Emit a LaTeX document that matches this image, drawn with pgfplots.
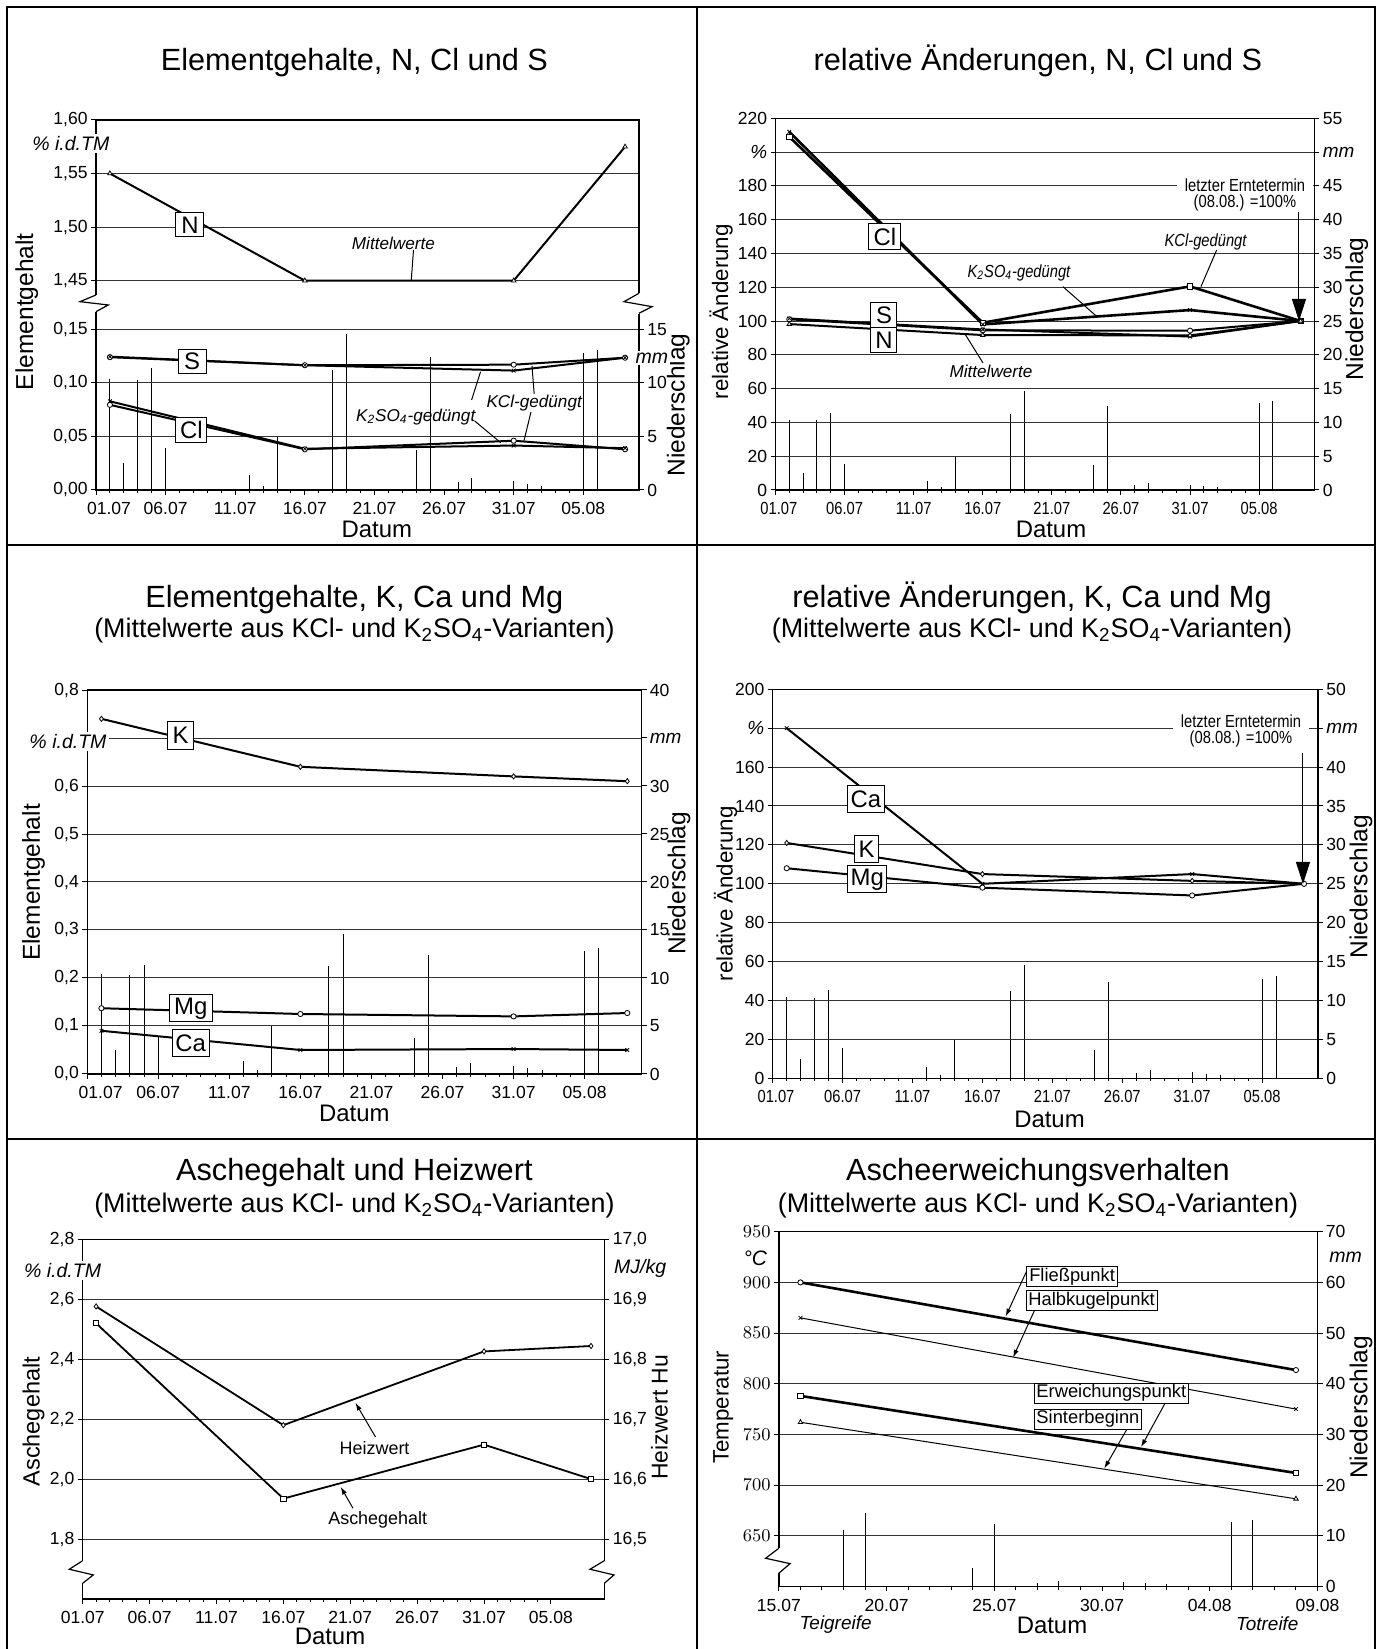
\documentclass[border=0pt]{standalone}
\usepackage{pgfplots}
\pgfplotsset{compat=1.18}
\usepackage{pgfplotstable}
\usepackage{fontspec}
\setmainfont{Liberation Sans}
\newfontfamily\narrow[FakeStretch=0.84]{Liberation Sans}
\usetikzlibrary{arrows.meta}
\newcommand\fs[1]{\fontsize{#1}{#1}\selectfont}

% Niederschlag (mm), day 0 = 01.07
\pgfplotstableread{
d mm
1 10.4
2 2.5
3 10.3
4 11.4
5 3.9
11 1.4
12 0.4
13 5.0
17 11.2
18 14.6
23 3.7
24 12.4
26 0.7
27 1.1
30 0.8
31 0.6
32 0.4
35 12.8
36 13.1
}\rain

\pgfplotsset{
  base/.style={scale only axis, anchor=south west, tick align=outside,
    major tick length=2.5bp, minor tick length=1.6bp,
    tick style={black, line width=0.5bp},
    axis line style={black, line width=0.6bp},
    tick label style={font=\fs{8.8}},
    xticklabel style={inner sep=0.5bp, yshift=-3bp},
    yticklabel style={inner sep=1.5bp}},
  leftax/.style={base, tick pos=left, ymajorgrids,
    grid style={black!80, line width=0.5bp}, minor x tick num=4},
  rightax/.style={base, axis x line=none, axis y line*=right},
  bar/.style={ycomb, black, line width=0.5bp, mark=none},
  ser/.style={black, line width=1bp, mark size=1.3bp,
    mark options={solid, fill=white, line width=0.4bp}},
}

\begin{document}
\begin{tikzpicture}
\useasboundingbox (0,0) rectangle (691.5bp,824.5bp);

%================ Panel 1 =================
\begin{axis}[rightax, at={(48bp,579.5bp)}, width=271.5bp, height=185bp,
  xmin=0, xmax=39, ymin=0, ymax=34.55, ytick={0,5,10,15}, yticklabels={0,5,10,15}]
\addplot[bar] table[x=d,y=mm]{\rain};
\end{axis}
\begin{axis}[leftax, at={(48bp,579.5bp)}, width=271.5bp, height=185bp,
  xmin=0, xmax=39, ymin=0, ymax=0.3455,
  xtick={0,5,...,35}, xticklabels={\hspace*{13bp}01.07,06.07,11.07,16.07,21.07,26.07,31.07,05.08},
  ytick={0,0.05,0.1,0.15,0.1955,0.2455,0.2955,0.3455},
  yticklabels={{0,00},{0,05},{0,10},{0,15},{1,45},{1,50},{1,55},{1,60}}]
% N (upper, broken scale: value-1.2545)
\addplot[ser, mark=triangle*] table[x=d, y expr=\thisrow{v}-1.2545]{
d v
1 1.55
15 1.45
30 1.45
38 1.575
};
% S KCl
\addplot[ser, mark=*] coordinates {(1,0.124)(15,0.1165)(30,0.117)(38,0.1235)};
% S K2SO4
\addplot[ser, mark=x] coordinates {(1,0.1245)(15,0.1165)(30,0.1115)(38,0.1235)};
% Cl KCl
\addplot[ser, mark=*] coordinates {(1,0.0795)(15,0.038)(30,0.046)(38,0.038)};
% Cl K2SO4
\addplot[ser, mark=x] coordinates {(1,0.0828)(15,0.0385)(30,0.0415)(38,0.039)};
\end{axis}

%================ Panel 2 =================
\begin{axis}[rightax, at={(387.75bp,579.5bp)}, width=269.45bp, height=185.85bp,
  xmin=0, xmax=39, ymin=0, ymax=55, ytick={0,5,...,55},
  yticklabels={0,5,10,15,20,25,30,35,40,45,{\fs{9.5}\itshape mm},55}]
\addplot[bar] table[x=d,y=mm]{\rain};
\end{axis}
\begin{axis}[leftax, at={(387.75bp,579.5bp)}, width=269.45bp, height=185.85bp,
  xmin=0, xmax=39, ymin=0, ymax=220,
  xtick={0,5,...,35}, xticklabels={\hspace*{3.4bp}01.07,06.07,11.07,16.07,21.07,26.07,31.07,05.08},
  xticklabel style={font=\narrow\fs{8.8}},
  ytick={0,20,...,220}, yticklabels={0,20,40,60,80,100,120,140,160,180,{\fs{9.5}\itshape\%},220}]
\addplot[ser, line width=1.3bp, mark=square*] coordinates {(1,209)(15,99)(30,120.5)(38,100)};
\addplot[ser, line width=1.3bp, mark=x] coordinates {(1,212)(15,98)(30,106.5)(38,100)};
\addplot[ser, mark=*] coordinates {(1,101)(15,94.5)(30,94.3)(38,100)};
\addplot[ser, mark=x] coordinates {(1,101.5)(15,95)(30,90.8)(38,100)};
\addplot[ser, mark=triangle*] coordinates {(1,98.2)(15,91.7)(30,91.5)(38,100)};
\end{axis}

%================ Panel 3 =================
\begin{axis}[rightax, at={(43.6bp,287.5bp)}, width=277.15bp, height=192bp,
  xmin=0, xmax=39, ymin=0, ymax=40, ytick={0,5,...,40},
  yticklabels={0,5,10,15,20,25,30,{\fs{9.5}\itshape mm},40}]
\addplot[bar] table[x=d,y=mm]{\rain};
\end{axis}
\begin{axis}[leftax, at={(43.6bp,287.5bp)}, width=277.15bp, height=192bp,
  xmin=0, xmax=39, ymin=0, ymax=0.8,
  xtick={0,5,...,35}, xticklabels={\hspace*{13.4bp}01.07,06.07,11.07,16.07,21.07,26.07,31.07,05.08},
  ytick={0,0.1,...,0.8}, yticklabels={{0,0},{0,1},{0,2},{0,3},{0,4},{0,5},{0,6},{},{0,8}}]
\addplot[ser, mark=diamond*] coordinates {(1,0.74)(15,0.64)(30,0.62)(38,0.61)};
\addplot[ser, mark=*] coordinates {(1,0.137)(15,0.125)(30,0.120)(38,0.127)};
\addplot[ser, mark=x] coordinates {(1,0.090)(15,0.050)(30,0.052)(38,0.050)};
\end{axis}

%================ Panel 4 =================
\begin{axis}[rightax, at={(386.35bp,285.35bp)}, width=272.65bp, height=194.5bp,
  xmin=0, xmax=39, ymin=0, ymax=50, ytick={0,5,...,50},
  yticklabels={0,5,10,15,20,25,30,35,40,{\fs{9.5}\itshape mm},50}]
\addplot[bar] table[x=d,y=mm]{\rain};
\end{axis}
\begin{axis}[leftax, at={(386.35bp,285.35bp)}, width=272.65bp, height=194.5bp,
  xmin=0, xmax=39, ymin=0, ymax=200,
  xtick={0,5,...,35}, xticklabels={\hspace*{3.3bp}01.07,06.07,11.07,16.07,21.07,26.07,31.07,05.08},
  xticklabel style={font=\narrow\fs{8.8}},
  ytick={0,20,...,200}, yticklabels={0,20,40,60,80,100,120,140,160,{\fs{9.5}\itshape\%},200}]
\addplot[ser, mark=x] coordinates {(1,180)(15,100)(30,105)(38,100)};
\addplot[ser, mark=diamond*] coordinates {(1,121)(15,105)(30,101.5)(38,100)};
\addplot[ser, mark=*] coordinates {(1,108)(15,98)(30,94)(38,100)};
\end{axis}

%================ Panel 5 =================
\begin{axis}[leftax, at={(41.35bp,25bp)}, width=260.85bp, height=179.85bp,
  xmin=0, xmax=39, ymin=1.6, ymax=2.8,
  xtick={0,5,...,35}, xticklabels={01.07,06.07,11.07,16.07,21.07,26.07,31.07,05.08},
  ytick={1.8,2.0,2.2,2.4,2.6,2.8}, yticklabels={{1,8},{2,0},{2,2},{2,4},{2,6},{2,8}}]
\addplot[ser, line width=0.9bp, mark=square*] coordinates {(1,2.52)(15,1.935)(30,2.115)(38,2.0)};
\end{axis}
\begin{axis}[rightax, at={(41.35bp,25bp)}, width=260.85bp, height=179.85bp,
  xmin=0, xmax=39, ymin=16.4, ymax=17.0, ytick={16.5,16.6,16.7,16.8,16.9,17.0},
  yticklabels={{16,5},{16,6},{16,7},{16,8},{16,9},{17,0}}]
\addplot[ser, line width=0.9bp, mark=diamond*] coordinates {(1,16.888)(15,16.69)(30,16.813)(38,16.822)};
\end{axis}

%================ Panel 6 =================
\begin{axis}[rightax, at={(389.45bp,31.25bp)}, width=269.3bp, height=177.4bp,
  xmin=14, xmax=39, ymin=0, ymax=70, ytick={0,10,...,70},
  yticklabels={0,10,20,30,40,50,60,70}]
\addplot[bar] table[x=d,y=mm, restrict x to domain=14:39]{\rain};
\end{axis}
\begin{axis}[leftax, at={(389.45bp,31.25bp)}, width=269.3bp, height=177.4bp,
  xmin=14, xmax=39, ymin=600, ymax=950,
  xtick={14,19,...,39}, xticklabels={15.07,20.07,25.07,30.07,04.08,09.08},
  ytick={650,700,...,950}]
\addplot[ser, line width=1.3bp, mark=*] coordinates {(15,900)(38,813.5)};
\addplot[ser, line width=0.5bp, mark=x] coordinates {(15,865)(38,775)};
\addplot[ser, line width=1.3bp, mark=square*] coordinates {(15,788)(38,712)};
\addplot[ser, line width=0.5bp, mark=triangle*] coordinates {(15,762)(38,686.5)};
\end{axis}

%================ Annotations in pixel coordinates =================
\begin{scope}[x=0.5bp, y=-0.5bp, shift={(0bp,824.5bp)}]
% frame
\draw[line width=1bp] (7.5,1649) -- (7.5,7.5) -- (1375.5,7.5) -- (1375.5,1649);
\draw[line width=1bp] (697.5,7.5) -- (697.5,1649);
\draw[line width=1bp] (7.5,545) -- (1375.5,545);
\draw[line width=1bp] (7.5,1139) -- (1375.5,1139);

% titles
\node[anchor=base, font=\fs{15.4}] at (354.4,70.5) {Elementgehalte, N, Cl und S};
\node[anchor=base, font=\fs{15.4}] at (1038,70.5) {relative Änderungen, N, Cl und S};
\node[anchor=base, font=\fs{15.4}] at (354.4,607.5) {Elementgehalte, K, Ca und Mg};
\node[anchor=base, font=\fs{13.5}] at (354.4,637.5) {(Mittelwerte aus KCl- und K\textsubscript{2}SO\textsubscript{4}-Varianten)};
\node[anchor=base, font=\fs{15.4}] at (1032,607.5) {relative Änderungen, K, Ca und Mg};
\node[anchor=base, font=\fs{13.5}] at (1032,637.5) {(Mittelwerte aus KCl- und K\textsubscript{2}SO\textsubscript{4}-Varianten)};
\node[anchor=base, font=\fs{15.4}] at (354.4,1181) {Aschegehalt und Heizwert};
\node[anchor=base, font=\fs{13.5}] at (354.4,1212.5) {(Mittelwerte aus KCl- und K\textsubscript{2}SO\textsubscript{4}-Varianten)};
\node[anchor=base, font=\fs{15.4}] at (1038,1181) {Ascheerweichungsverhalten};
\node[anchor=base, font=\fs{13.5}] at (1038,1212.5) {(Mittelwerte aus KCl- und K\textsubscript{2}SO\textsubscript{4}-Varianten)};

% axis labels
\tikzset{dat/.style={anchor=base, font=\fs{12}, inner sep=0pt}}
\node[rotate=90, font=\fs{12.3}] at (26.8,311.7) {Elementgehalt};
\node[rotate=90, font=\fs{12.3}] at (678.3,405) {Niederschlag};
\node[dat] at (376.8,538) {Datum};
\node[rotate=90, font=\fs{11.2}] at (721,311.7) {relative Änderung};
\node[rotate=90, font=\fs{12.3}] at (1356.7,309) {Niederschlag};
\node[dat] at (1051,537.5) {Datum};
\node[rotate=90, font=\fs{12.3}] at (33.5,882.5) {Elementgehalt};
\node[rotate=90, font=\fs{12.3}] at (679,883.3) {Niederschlag};
\node[dat] at (354.4,1122) {Datum};
\node[rotate=90, font=\fs{11.2}] at (725.5,894) {relative Änderung};
\node[rotate=90, font=\fs{12.3}] at (1361,886.7) {Niederschlag};
\node[dat] at (1049.5,1128) {Datum};
\node[rotate=90, font=\fs{11.8}] at (33.5,1421.7) {Aschegehalt};
\node[rotate=90, font=\fs{11.5}] at (659.4,1417.3) {Heizwert Hu};
\node[dat] at (330,1645) {Datum};
\node[rotate=90, font=\fs{11.2}] at (723.3,1407.3) {Temperatur};
\node[rotate=90, font=\fs{12.3}] at (1361,1407.3) {Niederschlag};
\node[dat] at (1052,1634) {Datum};
\node[anchor=base, font=\fs{9.5}\itshape] at (835.6,1630) {Teigreife};
\node[anchor=base, font=\fs{9.5}\itshape] at (1267.3,1630.7) {Totreife};

% unit labels over axis lines
\node[fill=white, inner sep=1bp, font=\fs{9.8}\itshape] at (70.8,143.5) {\% i.d.TM};
\node[fill=white, inner sep=1bp, font=\fs{9.8}\itshape] at (652,358) {mm};
\node[fill=white, inner sep=1bp, font=\fs{9.8}\itshape] at (68,741.7) {\% i.d.TM};
\node[fill=white, inner sep=1bp, font=\fs{9.8}\itshape] at (62.6,1270.7) {\% i.d.TM};
\node[inner sep=1bp, font=\fs{9.8}\itshape] at (640.2,1268.3) {MJ/kg};
\node[inner sep=1bp, font=\fs{10.5}\itshape] at (755.3,1258.3) {°C};
\node[inner sep=1bp, font=\fs{9.8}\itshape] at (1345.6,1257.3) {mm};

% axis breaks
\fill[white] (94.5,295) rectangle (98,312);
\draw[line width=0.6bp] (96,295) -- (80,301.7) -- (108.3,305) -- (96,311.7);
\fill[white] (637.5,293) rectangle (641,314);
\draw[line width=0.6bp] (639,293.3) -- (624,301.7) -- (652,306.7) -- (639,313.3);
\fill[white] (81,1560.7) rectangle (84.5,1583.3);
\draw[line width=0.6bp] (82.7,1560.7) -- (69.3,1569.3) -- (93.3,1575) -- (82.7,1583.3);
\fill[white] (602.7,1560.7) rectangle (606.2,1583.3);
\draw[line width=0.6bp] (604.4,1560.7) -- (590,1569.3) -- (614,1575) -- (604.4,1583.3);
\fill[white] (777.2,1548.3) rectangle (780.7,1573.3);
\draw[line width=0.6bp] (778.9,1548.3) -- (765.6,1558.3) -- (790,1563.7) -- (778.9,1573.3);

% ---- panel 1 annotations
\tikzset{lbox/.style={draw, fill=white, line width=0.5bp, inner sep=0pt, font=\fs{12}}}
\node[lbox, minimum width=14bp, minimum height=12bp] at (190,225) {N};
\node[lbox, minimum width=14bp, minimum height=12bp] at (192.2,361.7) {S};
\node[lbox, minimum width=15.5bp, minimum height=12.5bp] at (191.3,430) {Cl};
\node[font=\fs{8.6}\itshape] at (393.4,243.3) {Mittelwerte};
\draw[line width=0.5bp] (413.5,250) -- (411.3,280);
\node[font=\fs{8.6}\itshape] at (534.2,403.3) {KCl-gedüngt};
\draw[line width=0.5bp] (534.2,394) -- (532,366);
\draw[line width=0.5bp] (531,412) -- (524,440.7);
\node[font=\fs{8.6}\itshape] at (415.7,416.7) {K\textsubscript{2}SO\textsubscript{4}-gedüngt};
\draw[line width=0.5bp] (471.6,400) -- (480.6,371.7);
\draw[line width=0.5bp] (474.7,421) -- (500.7,442.7);

% ---- panel 2 annotations
\node[lbox, minimum width=16bp, minimum height=12.7bp] at (885,236.7) {Cl};
\node[lbox, minimum width=13bp, minimum height=12.3bp] at (884,315) {S};
\node[lbox, minimum width=13bp, minimum height=12.7bp] at (884,340) {N};
\node[font=\narrow\fs{8.8}\itshape] at (1019,272.7) {K\textsubscript{2}SO\textsubscript{4}-gedüngt};
\draw[line width=0.5bp] (1063,286.7) -- (1097,316.7);
\node[font=\narrow\fs{8.8}\itshape] at (1205.6,241.7) {KCl-gedüngt};
\draw[line width=0.5bp] (1216.7,250) -- (1201,286.7);
\node[font=\fs{8.6}\itshape] at (991,371.7) {Mittelwerte};
\draw[line width=0.5bp] (983,363) -- (965.6,335);
\node[fill=white, inner xsep=3.8bp, inner ysep=0.5bp, align=center, font=\narrow\fs{8.8}] at (1245,195) {letzter Erntetermin\\[-0.5bp](08.08.) =100\%};
\draw[line width=0.5bp, -{Triangle[length=11bp,width=7bp]}] (1299,211.7) -- (1299,321);

% ---- panel 3 annotations
\node[lbox, minimum width=13bp, minimum height=14bp] at (180.6,735.8) {K};
\node[lbox, minimum width=21.5bp, minimum height=13.3bp] at (190.7,1008.3) {Mg};
\node[lbox, minimum width=18.5bp, minimum height=13.3bp] at (190.6,1043.3) {Ca};

% ---- panel 4 annotations
\node[lbox, minimum width=18.2bp, minimum height=13.3bp] at (866,799.3) {Ca};
\node[lbox, minimum width=12.2bp, minimum height=13.3bp] at (866.7,849.3) {K};
\node[lbox, minimum width=19.5bp, minimum height=13.3bp] at (867.3,879.3) {Mg};
\node[fill=white, inner xsep=3.8bp, inner ysep=0.5bp, align=center, font=\narrow\fs{8.8}] at (1241,731) {letzter Erntetermin\\[-0.5bp](08.08.) =100\%};
\draw[line width=0.5bp, -{Triangle[length=11bp,width=7bp]}] (1303,753) -- (1303,884);

% ---- panel 5 annotations
\node[font=\fs{9}] at (374.6,1448.3) {Heizwert};
\draw[line width=0.5bp, -{Latex[length=4bp,width=2.5bp]}] (375.5,1437) -- (355.4,1402.7);
\node[font=\fs{9}] at (377.7,1520) {Aschegehalt};
\draw[line width=0.5bp, -{Latex[length=4bp,width=2.5bp]}] (353,1508.3) -- (340.6,1486.7);

% ---- panel 6 annotations
\tikzset{tbox/.style={draw, fill=white, line width=0.5bp, anchor=west, inner xsep=1.2bp, inner ysep=0pt, minimum height=10bp, font=\fs{9.2}}}
\draw[line width=0.5bp, -{Latex[length=4bp,width=2.5bp]}] (1026.4,1271.7) -- (1005.6,1316.7);
\draw[line width=0.5bp, -{Latex[length=4bp,width=2.5bp]}] (1034.4,1310.7) -- (1013,1357.7);
\draw[line width=0.5bp, -{Latex[length=4bp,width=2.5bp]}] (1164.7,1404) -- (1141,1447.3);
\draw[line width=0.5bp, -{Latex[length=4bp,width=2.5bp]}] (1126.9,1429.3) -- (1104.2,1468.7);
\node[tbox] at (1026.4,1276.7) {Fließpunkt};
\node[tbox] at (1025.6,1300.7) {Halbkugelpunkt};
\node[tbox] at (1033.6,1393.3) {Erweichungspunkt};
\node[tbox] at (1033.6,1419.3) {Sinterbeginn};
\end{scope}
\end{tikzpicture}
\end{document}
